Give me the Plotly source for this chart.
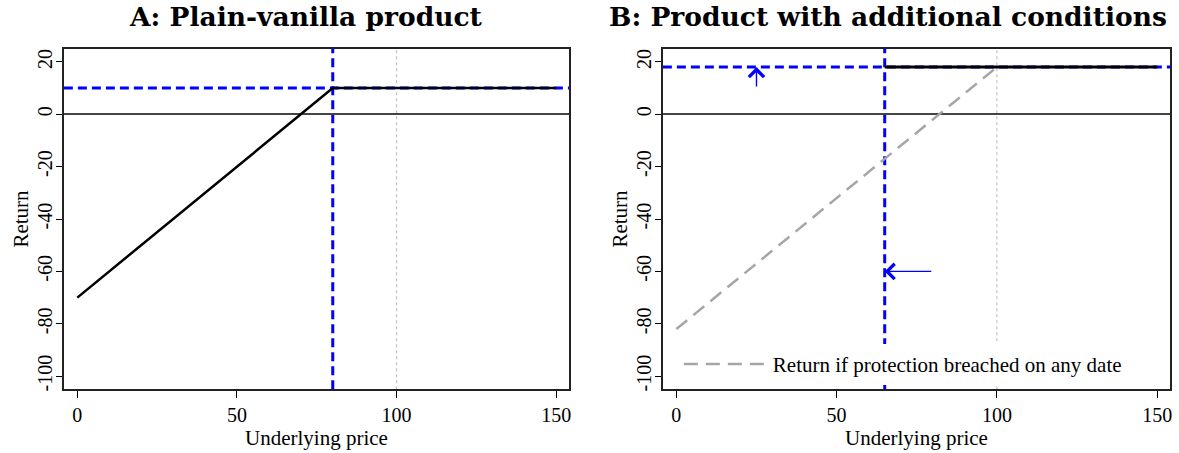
import plotly.graph_objects as go

# ---- data ----
price_a = [0, 80, 150]
return_a = [-70, 10, 10]
barrier_a = 80
cap_a = 10

price_b_protected = [65, 150]
return_b_protected = [18, 18]
price_b_breach = [0, 100]
return_b_breach = [-82, 18]
barrier_b = 65
cap_b = 18
initial_price = 100

arrow_up_x = 25
arrow_up_from = 10
arrow_left_y = -60
arrow_left_from = 80

x_ticks = [0, 50, 100, 150]
y_ticks = [20, 0, -20, -40, -60, -80, -100]
y_tick_text = ["20", "0", "-20", "-40", "-60", "-80", "-100"]
x_range = [-4.2, 154]
y_range = [-105, 25]

titles = ["A: Plain-vanilla product", "B: Product with additional conditions"]
legend_label = "Return if protection breached on any date"

BLUE = "#0000ff"
SERIF = "Liberation Serif"

fig = go.Figure()

# Panel A
fig.add_trace(go.Scatter(x=price_a, y=return_a, mode="lines",
                         line=dict(color="black", width=2.5),
                         showlegend=False, xaxis="x", yaxis="y"))
# Panel B
fig.add_trace(go.Scatter(x=price_b_breach, y=return_b_breach, mode="lines",
                         line=dict(color="#a6a6a6", width=2.5, dash="14px,8px"),
                         name=legend_label, showlegend=True, xaxis="x2", yaxis="y2"))
fig.add_trace(go.Scatter(x=price_b_protected, y=return_b_protected, mode="lines",
                         line=dict(color="black", width=3),
                         showlegend=False, xaxis="x2", yaxis="y2"))

# reference lines
for xr, yr, bar, cap in [("x", "y", barrier_a, cap_a), ("x2", "y2", barrier_b, cap_b)]:
    fig.add_shape(type="line", xref=xr, yref=yr + " domain", x0=initial_price, x1=initial_price,
                  y0=0, y1=1, line=dict(color="#b5b5b5", width=1, dash="dot"), layer="below")
    fig.add_shape(type="line", xref=xr, yref=yr + " domain", x0=bar, x1=bar, y0=0, y1=1,
                  line=dict(color=BLUE, width=3, dash="9px,5px"), layer="below")
    fig.add_shape(type="line", xref=xr + " domain", yref=yr, x0=0, x1=1, y0=cap, y1=cap,
                  line=dict(color=BLUE, width=3, dash="9px,5px"), layer="below")

# arrows
fig.add_annotation(x=arrow_up_x, y=cap_b, ax=arrow_up_x, ay=arrow_up_from,
                   xref="x2", yref="y2", axref="x2", ayref="y2", text="",
                   showarrow=True, arrowhead=4, arrowsize=2.1, arrowwidth=1.4, arrowcolor=BLUE)
fig.add_annotation(x=barrier_b, y=arrow_left_y, ax=arrow_left_from, ay=arrow_left_y,
                   xref="x2", yref="y2", axref="x2", ayref="y2", text="",
                   showarrow=True, arrowhead=4, arrowsize=2.1, arrowwidth=1.4, arrowcolor=BLUE)

# titles
fig.add_annotation(x=307 / 1179, y=1 - 17 / 453, xref="paper", yref="paper",
                   text="<b>" + titles[0] + "</b>", showarrow=False,
                   font=dict(family="DejaVu Serif", size=26.5, color="black"),
                   xanchor="center", yanchor="middle")
fig.add_annotation(x=1171 / 1179, y=1 - 17 / 453, xref="paper", yref="paper",
                   text="<b>" + titles[1] + "</b>", showarrow=False,
                   font=dict(family="DejaVu Serif", size=26.5, color="black"),
                   xanchor="right", yanchor="middle")

xaxis_common = dict(range=x_range, tickvals=x_ticks, ticks="outside", ticklen=7, tickwidth=1.2,
                    tickcolor="black", showline=True, mirror=True, linecolor="#222", linewidth=1.5,
                    showgrid=False, zeroline=False,
                    tickfont=dict(family=SERIF, size=20, color="black"),
                    title=dict(text="Underlying price", font=dict(family=SERIF, size=21, color="black"),
                               standoff=0))
yaxis_common = dict(range=y_range, tickvals=y_ticks, ticktext=y_tick_text, ticks="outside",
                    ticklen=6, tickwidth=1.2, ticklabelstandoff=-4,
                    tickcolor="black", showline=True, mirror=True, linecolor="#222", linewidth=1.5,
                    showgrid=False, zeroline=True, zerolinecolor="#444", zerolinewidth=1.5,
                    tickangle=-90,
                    tickfont=dict(family=SERIF, size=20, color="black"),
                    title=dict(text="Return", font=dict(family=SERIF, size=21, color="black"),
                               standoff=0))

fig.update_layout(
    width=1179, height=453,
    margin=dict(l=0, r=0, t=0, b=0),
    paper_bgcolor="white", plot_bgcolor="white",
    xaxis=dict(domain=[64 / 1179, 570 / 1179], anchor="y", **xaxis_common),
    yaxis=dict(domain=[62 / 453, 404 / 453], anchor="x", **yaxis_common),
    xaxis2=dict(domain=[664 / 1179, 1172 / 1179], anchor="y2", **xaxis_common),
    yaxis2=dict(domain=[62 / 453, 404 / 453], anchor="x2", **yaxis_common),
    legend=dict(x=680 / 1179, y=(453 - 366) / 453, xanchor="left", yanchor="middle",
                bgcolor="white", borderwidth=0, itemwidth=84,
                font=dict(family=SERIF, size=21, color="black")),
    showlegend=True,
)

fig.write_html("out.html", config={"displayModeBar": False},
               post_script="document.body.style.margin='0';")
